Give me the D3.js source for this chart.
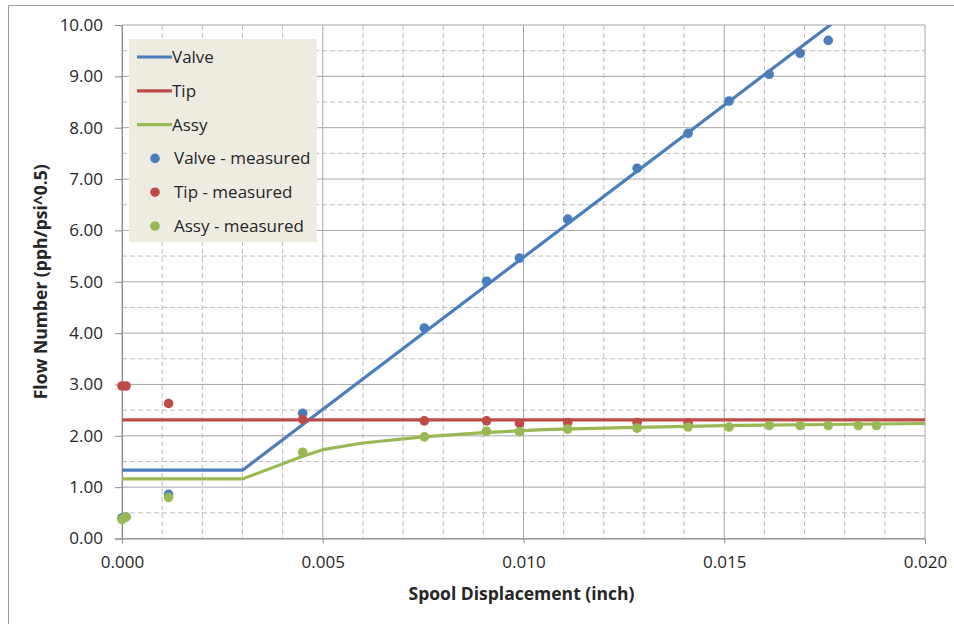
<!DOCTYPE html>
<html>
<head>
<meta charset="utf-8">
<script src="https://cdn.jsdelivr.net/npm/d3@7"></script>
<style>
  body { margin: 0; background: #fff; }
  svg text { font-family: "Open Sans", sans-serif; fill: #262626; }
</style>
</head>
<body>
<div id="chart"></div>
<script>
// model curves
var valveLine = [[0, 1.33], [0.003, 1.33], [0.02, 11.40]];
var tipLine = [[0, 2.31], [0.02, 2.31]];
var assyLine = [[0, 1.16], [0.003, 1.16], [0.0045, 1.60], [0.005, 1.73], [0.006, 1.86],
                [0.0075, 1.98], [0.009, 2.06], [0.0105, 2.12], [0.0125, 2.16],
                [0.015, 2.20], [0.0175, 2.22], [0.02, 2.24]];

// measured points
var measX = [0, 0.0001, 0.00116, 0.0045, 0.00753, 0.00908, 0.0099, 0.0111, 0.01283,
             0.0141, 0.01512, 0.01612, 0.01689, 0.01759, 0.01834, 0.01879];
var valveMeas = [0.40, 0.42, 0.86, 2.44, 4.10, 5.01, 5.46, 6.22, 7.21, 7.89, 8.52, 9.04, 9.45, 9.70];
var tipMeas = [2.97, 2.97, 2.63, 2.32, 2.29, 2.29, 2.24, 2.26, 2.26, 2.25];
var assyMeas = [0.37, 0.42, 0.80, 1.68, 1.98, 2.09, 2.08, 2.13, 2.15, 2.17, 2.17, 2.20, 2.20, 2.20, 2.20, 2.20];

var xTicks = [0, 0.005, 0.01, 0.015, 0.02];
var yTicks = [0, 1, 2, 3, 4, 5, 6, 7, 8, 9, 10];

var blue = "#4A7EBB", red = "#BE4B48", green = "#98B954";

var W = 954, H = 624;
var pL = 122, pR = 925, pT = 25, pB = 538.5;

var svg = d3.select("#chart").append("svg")
    .attr("width", W)
    .attr("height", H);

svg.append("rect").attr("width", W).attr("height", H).attr("fill", "#fff");
svg.append("path")
    .attr("d", "M8.5," + H + "V5.5H" + W)
    .attr("fill", "none")
    .attr("stroke", "#9a9a9a");

var x = d3.scaleLinear().domain([0, 0.02]).range([pL, pR]);
var y = d3.scaleLinear().domain([0, 10]).range([pB, pT]);

// minor dashed grid
var g = svg.append("g");
g.selectAll(".vminor").data(d3.range(1, 20).filter(function (i) { return i % 5 != 0; }))
    .enter().append("line")
    .attr("x1", function (i) { return x(i * 0.001); })
    .attr("x2", function (i) { return x(i * 0.001); })
    .attr("y1", pT).attr("y2", pB)
    .attr("stroke", "#bdbdbd").attr("stroke-dasharray", "5,3");
g.selectAll(".hminor").data(d3.range(0, 10))
    .enter().append("line")
    .attr("x1", pL).attr("x2", pR)
    .attr("y1", function (i) { return y(i + 0.5); })
    .attr("y2", function (i) { return y(i + 0.5); })
    .attr("stroke", "#bdbdbd").attr("stroke-dasharray", "5,3");

// major solid grid
g.selectAll(".vmajor").data(xTicks)
    .enter().append("line")
    .attr("x1", function (d) { return x(d); }).attr("x2", function (d) { return x(d); })
    .attr("y1", pT).attr("y2", pB)
    .attr("stroke", "#a6a6a6");
g.selectAll(".hmajor").data(yTicks)
    .enter().append("line")
    .attr("x1", pL).attr("x2", pR)
    .attr("y1", function (d) { return y(d); }).attr("y2", function (d) { return y(d); })
    .attr("stroke", "#a6a6a6");

// axes
var xAxis = svg.append("g")
    .attr("transform", "translate(0," + pB + ")")
    .call(d3.axisBottom(x).tickValues(xTicks).tickFormat(d3.format(".3f")).tickSize(5).tickPadding(12));
var yAxis = svg.append("g")
    .attr("transform", "translate(" + pL + ",0)")
    .call(d3.axisLeft(y).tickValues(yTicks).tickFormat(d3.format(".2f")).tickSize(7).tickPadding(12));
[xAxis, yAxis].forEach(function (a) {
    a.select(".domain").attr("stroke", "#8c8c8c");
    a.selectAll(".tick line").attr("stroke", "#8c8c8c");
    a.selectAll("text").attr("font-size", 17).attr("font-family", "Open Sans, sans-serif").attr("fill", "#262626");
});

// clip
svg.append("clipPath").attr("id", "plot")
    .append("rect").attr("x", pL).attr("y", pT)
    .attr("width", pR - pL).attr("height", pB - pT);

var plot = svg.append("g").attr("clip-path", "url(#plot)");
var line = d3.line().x(function (d) { return x(d[0]); }).y(function (d) { return y(d[1]); });

[[valveLine, blue], [tipLine, red], [assyLine, green]].forEach(function (s) {
    plot.append("path").datum(s[0])
        .attr("d", line)
        .attr("fill", "none")
        .attr("stroke", s[1])
        .attr("stroke-width", 3.2)
        .attr("stroke-linejoin", "round");
});

var dots = svg.append("g");
[[valveMeas, blue], [tipMeas, red], [assyMeas, green]].forEach(function (s) {
    dots.selectAll(null).data(s[0]).enter().append("circle")
        .attr("cx", function (d, i) { return x(measX[i]); })
        .attr("cy", function (d) { return y(d); })
        .attr("r", 4.8)
        .attr("fill", s[1]);
});

// legend
var leg = svg.append("g");
leg.append("rect").attr("x", 129).attr("y", 39).attr("width", 188).attr("height", 203)
    .attr("fill", "#EEECE1");
var entries = [["Valve", blue, "line"], ["Tip", red, "line"], ["Assy", green, "line"],
               ["Valve - measured", blue, "dot"], ["Tip - measured", red, "dot"], ["Assy - measured", green, "dot"]];
entries.forEach(function (e, i) {
    var ly = 57 + i * 33.8;
    if (e[2] == "line") {
        leg.append("line").attr("x1", 137).attr("x2", 172).attr("y1", ly).attr("y2", ly)
            .attr("stroke", e[1]).attr("stroke-width", 3.2);
    } else {
        leg.append("circle").attr("cx", 155).attr("cy", ly).attr("r", 4.8).attr("fill", e[1]);
    }
    leg.append("text").attr("x", e[2] == "line" ? 172 : 174).attr("y", ly + 6)
        .attr("font-size", 17).text(e[0]);
});

// axis titles
svg.append("text")
    .attr("x", (pL + pR) / 2 - 2).attr("y", 600)
    .attr("text-anchor", "middle")
    .attr("font-size", 17.5).attr("font-weight", "bold")
    .text("Spool Displacement (inch)");
svg.append("text")
    .attr("transform", "translate(47," + (pT + pB) / 2 + ") rotate(-90)")
    .attr("text-anchor", "middle")
    .attr("font-size", 17.5).attr("font-weight", "bold")
    .text("Flow Number (pph/psi^0.5)");
</script>
</body>
</html>
